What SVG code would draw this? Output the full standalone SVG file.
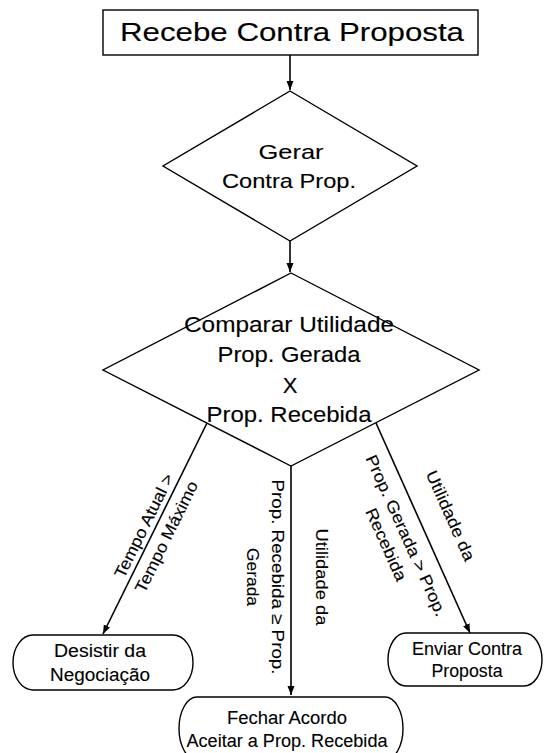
<svg xmlns="http://www.w3.org/2000/svg" width="544" height="753" viewBox="0 0 544 753">
  <defs>
    <marker id="arrow" markerUnits="userSpaceOnUse" markerWidth="10" markerHeight="8" refX="9" refY="3.5" orient="auto">
      <path d="M0,0 L9,3.5 L0,7 z" fill="#000"/>
    </marker>
    <style>
      .shape { fill: #fff; stroke: #000; stroke-width: 1.4; }
      .edge { fill: none; stroke: #000; stroke-width: 1.6; marker-end: url(#arrow); }
      text { font-family: "Liberation Sans", Arial, sans-serif; fill: #000; text-anchor: middle; stroke: #000; stroke-width: 0.12; }
      .t26 { font-size: 26px; }
      .t22 { font-size: 22px; }
      .t21 { font-size: 21px; }
      .t17 { font-size: 17.5px; }
      .t16 { font-size: 16.5px; }
    </style>
  </defs>
  <rect width="544" height="753" fill="#fff"/>

  <!-- connectors and their labels -->
  <g id="connectors">
    <line class="edge" x1="290" y1="55" x2="290" y2="90"/>
    <line class="edge" x1="290" y1="241" x2="290" y2="272"/>
    <line class="edge" x1="207" y1="423" x2="103" y2="634"/>
    <line class="edge" x1="291" y1="466" x2="291" y2="695"/>
    <line class="edge" x1="376" y1="423" x2="470" y2="633"/>

    <g transform="translate(154,530.6) rotate(-63.8)">
      <text class="t16" x="0" y="-5.5" textLength="114" lengthAdjust="spacingAndGlyphs">Tempo Atual &gt;</text>
      <text class="t16" x="0" y="19.5" textLength="122" lengthAdjust="spacingAndGlyphs">Tempo Máximo</text>
    </g>
    <g transform="translate(291,577) rotate(90)">
      <text class="t16" x="0" y="-24.5" textLength="97" lengthAdjust="spacingAndGlyphs">Utilidade da</text>
      <text class="t16" x="0" y="19" textLength="195" lengthAdjust="spacingAndGlyphs">Prop. Recebida ≥ Prop.</text>
      <text class="t16" x="0" y="44" textLength="58" lengthAdjust="spacingAndGlyphs">Gerada</text>
    </g>
    <g transform="translate(423,528) rotate(65.9)">
      <text class="t16" x="0" y="-24.5" textLength="97" lengthAdjust="spacingAndGlyphs">Utilidade da</text>
      <text class="t16" x="0" y="24" textLength="175" lengthAdjust="spacingAndGlyphs">Prop. Gerada &gt; Prop.</text>
      <text class="t16" x="0" y="46" textLength="78" lengthAdjust="spacingAndGlyphs">Recebida</text>
    </g>
  </g>

  <g id="recebe">
    <rect class="shape" x="103" y="10" width="375" height="45"/>
    <text class="t26" x="292" y="41" textLength="344" lengthAdjust="spacingAndGlyphs">Recebe Contra Proposta</text>
  </g>

  <g id="gerar">
    <polygon class="shape" points="290,91 417,166 290,241 163,166"/>
    <text class="t21" x="291" y="159" textLength="65" lengthAdjust="spacingAndGlyphs">Gerar</text>
    <text class="t21" x="289" y="188" textLength="134" lengthAdjust="spacingAndGlyphs">Contra Prop.</text>
  </g>

  <g id="comparar">
    <polygon class="shape" points="291,273 479,370 291,466 103,370"/>
    <text class="t22" x="289" y="332" textLength="210" lengthAdjust="spacingAndGlyphs">Comparar Utilidade</text>
    <text class="t22" x="289" y="362" textLength="143" lengthAdjust="spacingAndGlyphs">Prop. Gerada</text>
    <text class="t22" x="290" y="393">X</text>
    <text class="t22" x="289" y="422" textLength="165" lengthAdjust="spacingAndGlyphs">Prop. Recebida</text>
  </g>

  <g id="desistir">
    <rect class="shape" x="13" y="635" width="180" height="55" rx="20" ry="27.5"/>
    <text class="t17" x="100" y="657" textLength="92" lengthAdjust="spacingAndGlyphs">Desistir da</text>
    <text class="t17" x="100" y="681" textLength="100" lengthAdjust="spacingAndGlyphs">Negociação</text>
  </g>

  <g id="enviar">
    <rect class="shape" x="388" y="633" width="154" height="53" rx="18" ry="26.5"/>
    <text class="t17" x="467" y="655" textLength="110" lengthAdjust="spacingAndGlyphs">Enviar Contra</text>
    <text class="t17" x="467" y="677" textLength="71" lengthAdjust="spacingAndGlyphs">Proposta</text>
  </g>

  <g id="fechar">
    <rect class="shape" x="179" y="697" width="224" height="63" rx="18" ry="31.5"/>
    <text class="t17" x="287" y="724" textLength="120" lengthAdjust="spacingAndGlyphs">Fechar Acordo</text>
    <text class="t17" x="287" y="747" textLength="201" lengthAdjust="spacingAndGlyphs">Aceitar a Prop. Recebida</text>
  </g>
</svg>
